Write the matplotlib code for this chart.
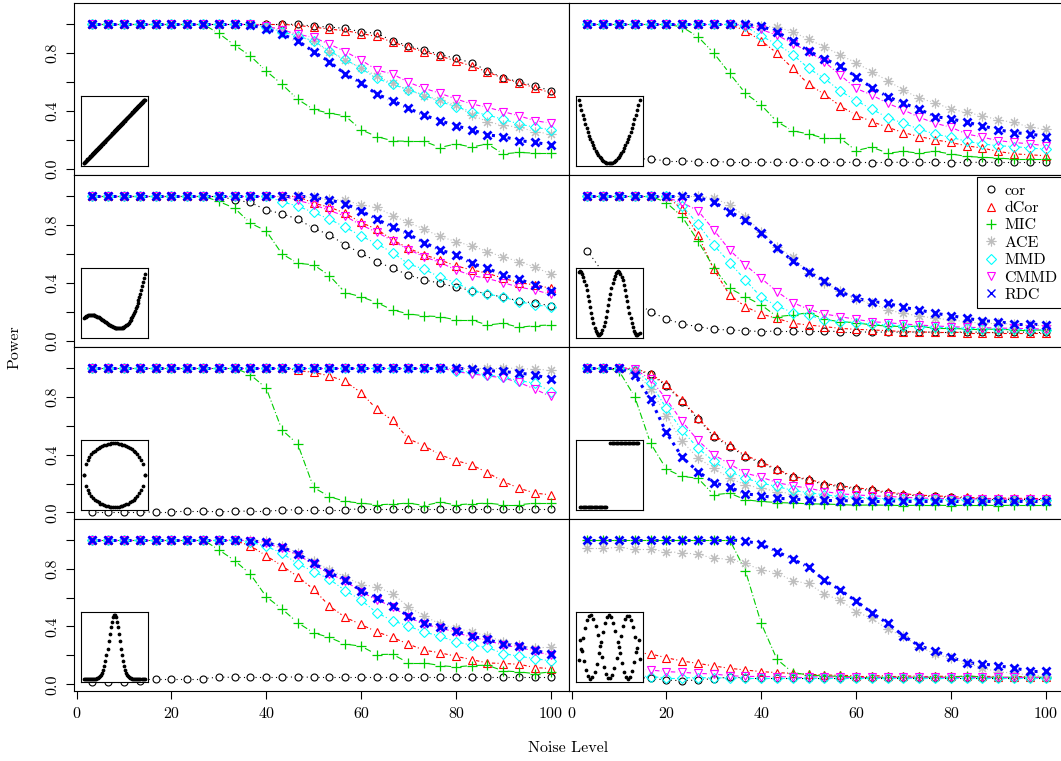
import numpy as np
import matplotlib
matplotlib.use("Agg")
import matplotlib.pyplot as plt
from matplotlib.collections import LineCollection
from matplotlib.lines import Line2D

plt.rcParams['font.family'] = ['cmr10', 'DejaVu Serif']
plt.rcParams['mathtext.fontset'] = 'cm'
plt.rcParams['axes.formatter.use_mathtext'] = True

# ---------------- data ----------------
noise = [100.0 * i / 30 for i in range(1, 31)]
methods = ["cor", "dCor", "MIC", "ACE", "MMD", "CMMD", "RDC"]

linear = {
    "cor":  [1]*13 + [0.998, 0.986, 0.98, 0.97, 0.947, 0.936, 0.885, 0.85, 0.82, 0.79, 0.763, 0.733, 0.678, 0.628, 0.602, 0.572, 0.54],
    "dCor": [1]*13 + [0.99, 0.98, 0.965, 0.955, 0.935, 0.915, 0.875, 0.84, 0.81, 0.78, 0.745, 0.71, 0.67, 0.625, 0.595, 0.56, 0.525],
    "MIC":  [1]*8 + [0.936, 0.855, 0.78, 0.676, 0.584, 0.48, 0.41, 0.384, 0.366, 0.27, 0.223, 0.193, 0.19, 0.19, 0.147, 0.172, 0.15, 0.172, 0.103, 0.113, 0.108, 0.108],
    "ACE":  [1]*11 + [0.99, 0.96, 0.92, 0.88, 0.81, 0.75, 0.70, 0.64, 0.59, 0.545, 0.506, 0.476, 0.44, 0.372, 0.326, 0.30, 0.287, 0.257, 0.24],
    "MMD":  [1]*11 + [0.98, 0.947, 0.917, 0.885, 0.814, 0.756, 0.694, 0.625, 0.584, 0.545, 0.51, 0.464, 0.43, 0.395, 0.372, 0.342, 0.31, 0.287, 0.27],
    "CMMD": [1]*11 + [0.986, 0.96, 0.93, 0.908, 0.862, 0.81, 0.752, 0.683, 0.655, 0.598, 0.556, 0.522, 0.483, 0.448, 0.425, 0.395, 0.366, 0.333, 0.315],
    "RDC":  [1]*10 + [0.993, 0.968, 0.93, 0.885, 0.81, 0.74, 0.655, 0.595, 0.515, 0.472, 0.418, 0.37, 0.333, 0.297, 0.27, 0.234, 0.223, 0.195, 0.182, 0.166],
}
parabolic = {
    "cor":  [0.08, 0.075, 0.07, 0.07, 0.067, 0.055, 0.055, 0.05, 0.05, 0.046, 0.046, 0.046, 0.044, 0.045, 0.044, 0.044, 0.045, 0.044, 0.043, 0.044, 0.045, 0.044, 0.044, 0.043, 0.044, 0.045, 0.044, 0.044, 0.044, 0.044],
    "dCor": [1]*10 + [0.954, 0.885, 0.80, 0.694, 0.584, 0.515, 0.434, 0.372, 0.326, 0.287, 0.25, 0.223, 0.2, 0.182, 0.159, 0.143, 0.12, 0.103, 0.097, 0.09],
    "MIC":  [1]*6 + [0.98, 0.913, 0.80, 0.66, 0.522, 0.441, 0.326, 0.262, 0.241, 0.211, 0.211, 0.126, 0.15, 0.108, 0.12, 0.108, 0.12, 0.103, 0.085, 0.08, 0.074, 0.067, 0.067, 0.067],
    "ACE":  [1]*11 + [0.986, 0.98, 0.947, 0.894, 0.844, 0.786, 0.733, 0.671, 0.609, 0.545, 0.487, 0.457, 0.412, 0.39, 0.366, 0.338, 0.32, 0.287, 0.274],
    "MMD":  [1]*10 + [0.985, 0.917, 0.862, 0.79, 0.694, 0.625, 0.538, 0.472, 0.412, 0.354, 0.315, 0.274, 0.24, 0.218, 0.19, 0.172, 0.159, 0.154, 0.143, 0.136],
    "CMMD": [1]*10 + [0.99, 0.963, 0.924, 0.866, 0.81, 0.74, 0.648, 0.556, 0.51, 0.453, 0.407, 0.356, 0.315, 0.287, 0.241, 0.218, 0.195, 0.182, 0.172, 0.159],
    "RDC":  [1]*10 + [0.998, 0.986, 0.947, 0.883, 0.814, 0.76, 0.71, 0.637, 0.561, 0.499, 0.453, 0.412, 0.361, 0.345, 0.322, 0.297, 0.27, 0.25, 0.241, 0.223],
}
cubic = {
    "cor":  [1]*9 + [0.973, 0.955, 0.904, 0.877, 0.84, 0.777, 0.731, 0.662, 0.604, 0.547, 0.5, 0.454, 0.42, 0.397, 0.37, 0.346, 0.323, 0.3, 0.275, 0.259, 0.242],
    "dCor": [1]*13 + [0.997, 0.95, 0.923, 0.881, 0.817, 0.77, 0.697, 0.639, 0.593, 0.558, 0.517, 0.489, 0.466, 0.431, 0.401, 0.385, 0.362],
    "MIC":  [1]*8 + [0.962, 0.916, 0.812, 0.759, 0.6, 0.535, 0.524, 0.45, 0.332, 0.304, 0.263, 0.212, 0.185, 0.171, 0.166, 0.143, 0.143, 0.108, 0.12, 0.092, 0.104, 0.108],
    "ACE":  [1]*14 + [0.99, 0.978, 0.969, 0.939, 0.923, 0.863, 0.817, 0.77, 0.72, 0.685, 0.655, 0.616, 0.577, 0.547, 0.508, 0.461],
    "MMD":  [1]*12 + [0.96, 0.93, 0.886, 0.84, 0.784, 0.724, 0.669, 0.609, 0.53, 0.494, 0.438, 0.401, 0.346, 0.323, 0.3, 0.27, 0.247, 0.235],
    "CMMD": [1]*13 + [0.97, 0.94, 0.9, 0.86, 0.8, 0.75, 0.69, 0.63, 0.58, 0.54, 0.49, 0.45, 0.43, 0.4, 0.37, 0.35, 0.32],
    "RDC":  [1]*14 + [0.99, 0.973, 0.946, 0.897, 0.84, 0.784, 0.736, 0.678, 0.627, 0.593, 0.535, 0.5, 0.454, 0.424, 0.385, 0.346],
}
sine_low = {
    "cor":  [0.622, 0.47, 0.35, 0.27, 0.2, 0.15, 0.115, 0.097, 0.078, 0.074, 0.069, 0.062, 0.067, 0.067, 0.067, 0.067, 0.062, 0.062, 0.058, 0.06, 0.058, 0.06, 0.058, 0.058, 0.06, 0.058, 0.058, 0.06, 0.058, 0.058],
    "dCor": [1]*6 + [0.908, 0.73, 0.493, 0.316, 0.235, 0.184, 0.154, 0.12, 0.108, 0.097, 0.085, 0.078, 0.074, 0.069, 0.062, 0.06, 0.058, 0.058, 0.056, 0.056, 0.055, 0.055, 0.055, 0.055],
    "MIC":  [1]*5 + [0.954, 0.857, 0.689, 0.505, 0.362, 0.304, 0.247, 0.166, 0.177, 0.194, 0.147, 0.131, 0.124, 0.108, 0.101, 0.097, 0.1, 0.085, 0.085, 0.08, 0.08, 0.078, 0.075, 0.075, 0.072],
    "ACE":  [1]*8 + [0.985, 0.938, 0.857, 0.753, 0.65, 0.576, 0.465, 0.396, 0.346, 0.286, 0.258, 0.212, 0.189, 0.17, 0.155, 0.143, 0.131, 0.12, 0.12, 0.115, 0.108, 0.108],
    "MMD":  [1]*6 + [0.931, 0.806, 0.661, 0.539, 0.419, 0.3, 0.24, 0.194, 0.177, 0.143, 0.131, 0.124, 0.115, 0.108, 0.101, 0.097, 0.092, 0.09, 0.085, 0.082, 0.08, 0.078, 0.076, 0.075],
    "CMMD": [1]*5 + [0.99, 0.954, 0.899, 0.765, 0.627, 0.523, 0.431, 0.339, 0.263, 0.217, 0.184, 0.166, 0.147, 0.131, 0.124, 0.115, 0.108, 0.101, 0.097, 0.092, 0.09, 0.087, 0.085, 0.083, 0.08],
    "RDC":  [1]*7 + [0.99, 0.96, 0.892, 0.834, 0.747, 0.638, 0.553, 0.477, 0.412, 0.339, 0.293, 0.27, 0.258, 0.23, 0.212, 0.189, 0.173, 0.154, 0.138, 0.131, 0.115, 0.115, 0.108],
}
circle = {
    "cor":  [0.0, 0.0, 0.0, 0.0, 0.005, 0.005, 0.008, 0.008, 0.005, 0.008, 0.01, 0.01, 0.015, 0.02, 0.02, 0.02, 0.02, 0.025, 0.025, 0.025, 0.025, 0.025, 0.025, 0.025, 0.025, 0.025, 0.025, 0.025, 0.025, 0.025],
    "dCor": [1]*13 + [0.982, 0.968, 0.945, 0.906, 0.829, 0.714, 0.636, 0.509, 0.461, 0.399, 0.359, 0.329, 0.276, 0.214, 0.168, 0.134, 0.122],
    "MIC":  [1]*10 + [0.952, 0.86, 0.571, 0.472, 0.173, 0.11, 0.076, 0.065, 0.053, 0.058, 0.065, 0.048, 0.071, 0.053, 0.06, 0.065, 0.053, 0.053, 0.065, 0.065],
    "ACE":  [1]*27 + [0.995, 0.99, 0.985],
    "MMD":  [1]*23 + [0.98, 0.97, 0.952, 0.935, 0.912, 0.894, 0.836],
    "CMMD": [1]*23 + [0.975, 0.958, 0.945, 0.93, 0.899, 0.853, 0.802],
    "RDC":  [1]*23 + [0.997, 0.99, 0.98, 0.975, 0.963, 0.952, 0.922],
}
step = {
    "cor":  [1]*3 + [0.985, 0.957, 0.874, 0.766, 0.647, 0.525, 0.456, 0.387, 0.341, 0.295, 0.244, 0.226, 0.191, 0.18, 0.161, 0.152, 0.134, 0.122, 0.115, 0.111, 0.104, 0.099, 0.092, 0.092, 0.092, 0.092, 0.092],
    "dCor": [1]*3 + [0.995, 0.96, 0.885, 0.775, 0.655, 0.535, 0.465, 0.395, 0.35, 0.3, 0.25, 0.23, 0.2, 0.185, 0.17, 0.16, 0.14, 0.13, 0.12, 0.115, 0.11, 0.105, 0.1, 0.1, 0.098, 0.097, 0.097],
    "MIC":  [1, 1, 0.98, 0.8, 0.479, 0.3, 0.249, 0.237, 0.122, 0.134, 0.088, 0.076, 0.069, 0.065, 0.06, 0.058, 0.055, 0.05, 0.052, 0.05, 0.048, 0.05, 0.05, 0.048, 0.05, 0.05, 0.048, 0.05, 0.05, 0.05],
    "ACE":  [1]*3 + [0.973, 0.857, 0.668, 0.491, 0.376, 0.306, 0.237, 0.191, 0.168, 0.145, 0.129, 0.115, 0.108, 0.1, 0.097, 0.095, 0.093, 0.092, 0.09, 0.09, 0.088, 0.088, 0.087, 0.087, 0.086, 0.086, 0.085],
    "MMD":  [1]*3 + [0.985, 0.894, 0.721, 0.567, 0.445, 0.353, 0.283, 0.237, 0.203, 0.18, 0.152, 0.138, 0.122, 0.111, 0.106, 0.099, 0.095, 0.092, 0.09, 0.09, 0.088, 0.087, 0.086, 0.085, 0.085, 0.085, 0.085],
    "CMMD": [1]*3 + [0.99, 0.922, 0.783, 0.629, 0.498, 0.399, 0.336, 0.272, 0.244, 0.207, 0.184, 0.168, 0.145, 0.129, 0.122, 0.115, 0.111, 0.106, 0.1, 0.098, 0.096, 0.095, 0.094, 0.093, 0.092, 0.091, 0.09],
    "RDC":  [1]*3 + [0.951, 0.783, 0.553, 0.382, 0.283, 0.207, 0.175, 0.129, 0.117, 0.099, 0.092, 0.088, 0.083, 0.082, 0.08, 0.08, 0.08, 0.078, 0.078, 0.078, 0.077, 0.077, 0.076, 0.076, 0.076, 0.076, 0.076],
}
gaussian = {
    "cor":  [0.016, 0.016, 0.016, 0.025, 0.039, 0.039, 0.039, 0.039, 0.05, 0.048, 0.048, 0.048, 0.048, 0.052, 0.048, 0.048, 0.048, 0.048, 0.048, 0.048, 0.048, 0.048, 0.048, 0.048, 0.048, 0.048, 0.048, 0.048, 0.048, 0.048],
    "dCor": [1]*9 + [0.995, 0.958, 0.889, 0.819, 0.745, 0.657, 0.542, 0.463, 0.414, 0.363, 0.324, 0.278, 0.236, 0.218, 0.194, 0.171, 0.148, 0.144, 0.139, 0.116, 0.109],
    "MIC":  [1]*8 + [0.93, 0.856, 0.762, 0.606, 0.521, 0.426, 0.356, 0.324, 0.278, 0.264, 0.206, 0.208, 0.148, 0.148, 0.13, 0.12, 0.13, 0.132, 0.093, 0.086, 0.074, 0.086],
    "ACE":  [1]*11 + [0.99, 0.955, 0.91, 0.85, 0.79, 0.745, 0.688, 0.676, 0.625, 0.537, 0.472, 0.417, 0.387, 0.363, 0.333, 0.294, 0.271, 0.248, 0.26],
    "MMD":  [1]*10 + [0.984, 0.954, 0.907, 0.833, 0.78, 0.727, 0.648, 0.583, 0.495, 0.44, 0.403, 0.361, 0.333, 0.294, 0.271, 0.255, 0.213, 0.194, 0.178, 0.162],
    "CMMD": [1]*10 + [0.99, 0.975, 0.94, 0.895, 0.83, 0.765, 0.715, 0.64, 0.585, 0.535, 0.465, 0.415, 0.39, 0.36, 0.325, 0.305, 0.27, 0.255, 0.23, 0.2],
    "RDC":  [1]*10 + [0.993, 0.981, 0.949, 0.903, 0.838, 0.773, 0.722, 0.648, 0.595, 0.542, 0.472, 0.421, 0.398, 0.37, 0.333, 0.31, 0.278, 0.264, 0.236, 0.208],
}
sine_mix = {
    "cor":  [0.05, 0.05, 0.05, 0.05, 0.041, 0.03, 0.025, 0.03, 0.04, 0.05, 0.045, 0.045, 0.045, 0.045, 0.045, 0.045, 0.045, 0.045, 0.045, 0.045, 0.045, 0.045, 0.045, 0.045, 0.045, 0.045, 0.045, 0.045, 0.045, 0.045],
    "dCor": [0.25, 0.24, 0.23, 0.22, 0.21, 0.184, 0.161, 0.145, 0.127, 0.111, 0.099, 0.088, 0.081, 0.076, 0.069, 0.065, 0.062, 0.06, 0.06, 0.058, 0.058, 0.056, 0.056, 0.055, 0.055, 0.055, 0.054, 0.054, 0.053, 0.053],
    "MIC":  [1]*10 + [0.786, 0.422, 0.173, 0.081, 0.065, 0.058, 0.055, 0.05, 0.05, 0.048, 0.05, 0.048, 0.05, 0.048, 0.06, 0.05, 0.048, 0.05, 0.048, 0.05],
    "ACE":  [0.94, 0.94, 0.947, 0.933, 0.933, 0.917, 0.91, 0.899, 0.871, 0.866, 0.836, 0.79, 0.772, 0.714, 0.698, 0.622, 0.583, 0.502, 0.456, 0.38, 0.334, 0.26, 0.21, 0.18, 0.15, 0.111, 0.088, 0.076, 0.065, 0.058],
    "MMD":  [0.06, 0.06, 0.06, 0.06, 0.053, 0.045, 0.045, 0.046, 0.045, 0.044, 0.045, 0.045, 0.045, 0.045, 0.045, 0.045, 0.045, 0.045, 0.045, 0.045, 0.045, 0.045, 0.045, 0.045, 0.045, 0.045, 0.045, 0.045, 0.045, 0.045],
    "CMMD": [0.11, 0.11, 0.11, 0.11, 0.099, 0.088, 0.083, 0.076, 0.071, 0.06, 0.055, 0.054, 0.053, 0.052, 0.052, 0.051, 0.05, 0.05, 0.05, 0.05, 0.05, 0.05, 0.049, 0.049, 0.049, 0.049, 0.048, 0.048, 0.048, 0.048],
    "RDC":  [1]*10 + [0.99, 0.97, 0.917, 0.866, 0.809, 0.721, 0.652, 0.576, 0.495, 0.422, 0.336, 0.265, 0.233, 0.187, 0.15, 0.141, 0.129, 0.111, 0.094, 0.094],
}

panels = [linear, parabolic, cubic, sine_low, circle, step, gaussian, sine_mix]
shapes = ["linear", "parabolic", "cubic", "sine_low", "circle", "step", "gaussian", "sine_mix"]
x_ticks = [0, 20, 40, 60, 80, 100]
y_ticks = [0.0, 0.2, 0.4, 0.6, 0.8, 1.0]
y_tick_labels = ["0.0", "", "0.4", "", "0.8", ""]

# ---------------- styles ----------------
GREEN = "#00CD00"
style = {
    "cor":  dict(color="black", marker="o", ms=5.0, mew=0.8, ls=(0, (1, 3)), lw=0.8),
    "dCor": dict(color="red", marker="^", ms=6.0, mew=0.8, ls=(0, (3, 2, 1, 2)), lw=0.8),
    "MIC":  dict(color=GREEN, marker="+", ms=7.5, mew=0.9, ls=(0, (6, 2, 1, 2)), lw=0.8),
    "ACE":  dict(color="#BEBEBE", marker=(8, 2, 0), ms=7.0, mew=0.8, ls=(0, (1, 2)), lw=0.8),
    "MMD":  dict(color="cyan", marker="D", ms=5.0, mew=0.8, ls=(0, (3, 2, 1, 2)), lw=0.8),
    "CMMD": dict(color="magenta", marker="v", ms=6.0, mew=0.8, ls=(0, (4, 2, 1, 2)), lw=0.8),
    "RDC":  dict(color="blue", marker="x", ms=6.0, mew=2.0, ls=(0, (1, 1.5)), lw=2.2),
}

W, H = 1061, 761
fig = plt.figure(figsize=(W / 100, H / 100), dpi=100)

LEFT, COLW, TOP, ROWH = 74.0, 495.0, 3.3, 171.85
XLIM = (-0.53, 103.87)
YLIM = (-0.044, 1.144)
GAP = 4.5  # px gap between line ends and markers (type="b")


def gapped(ax, x, y, gap):
    pts = ax.transData.transform(np.column_stack([x, y]))
    inv = ax.transData.inverted()
    segs = []
    for p, q in zip(pts[:-1], pts[1:]):
        d = q - p
        L = np.hypot(d[0], d[1])
        if L <= 2 * gap + 0.5:
            continue
        u = d / L
        segs.append(inv.transform(np.array([p + u * gap, q - u * gap])))
    return segs


def draw_shape(ins, name):
    k = dict(ls="none", marker="o", ms=1.7, color="black", mec="black")
    if name == "linear":
        t = np.linspace(0, 1, 150)
        ins.plot(t, t, **k)
    elif name == "parabolic":
        t = np.linspace(0, 1, 48)
        ins.plot(t, (t - 0.5) ** 2, **k)
    elif name == "cubic":
        t = np.linspace(0, 1, 70)
        g = t ** 3 - 1.05 * t ** 2 + 0.2088 * t
        ins.plot(t, g, **k)
        lo, hi = g.min(), g.max()
        R = hi - lo
        ins.set_ylim(lo - 0.18 * R, hi + 0.103 * R)
    elif name == "sine_low":
        t = np.linspace(0, 1, 55)
        ins.plot(t, np.cos(2 * np.pi * (t - 0.015) / 0.63), **k)
    elif name == "circle":
        t = np.linspace(-1, 1, 34)
        ins.plot(t, np.sqrt(1 - t ** 2), **k)
        ins.plot(t, -np.sqrt(1 - t ** 2), **k)
    elif name == "step":
        t1 = np.linspace(0.02, 0.45, 22)
        t2 = np.linspace(0.52, 0.98, 22)
        ins.plot(t1, np.zeros_like(t1), **k)
        ins.plot(t2, np.ones_like(t2), **k)
        ins.set_xlim(-0.05, 1.05)
    elif name == "gaussian":
        t = np.linspace(0, 1, 60)
        ins.plot(t, np.exp(-(t - 0.5) ** 2 / (2 * 0.09 ** 2)), **k)
    elif name == "sine_mix":
        t1 = np.linspace(0, 1, 30)
        t2 = np.linspace(0.017, 0.983, 29)
        a = lambda t: np.sin(2 * np.pi * (t - 0.04) / 0.615)
        ins.plot(t1, a(t1), **k)
        ins.plot(t2, -a(t2), **k)


for idx, (data, shape) in enumerate(zip(panels, shapes)):
    r, c = divmod(idx, 2)
    ax = fig.add_axes([(LEFT + c * COLW) / W, (H - (TOP + (r + 1) * ROWH)) / H, COLW / W, ROWH / H])
    ax.set_xlim(*XLIM)
    ax.set_ylim(*YLIM)
    for sp in ax.spines.values():
        sp.set_linewidth(0.8)
    for m in methods:
        s = style[m]
        y = data[m]
        segs = gapped(ax, noise, y, GAP)
        lc = LineCollection(segs, colors=s["color"], linewidths=s["lw"], linestyles=[s["ls"]], zorder=2)
        ax.add_collection(lc)
    for m in methods:
        s = style[m]
        ax.plot(noise, data[m], ls="none", marker=s["marker"], ms=s["ms"], mew=s["mew"],
                mec=s["color"], mfc="none", color=s["color"], zorder=3, label=m)
    # ticks
    if c == 0:
        ax.set_yticks(y_ticks)
        ax.set_yticklabels(y_tick_labels)
        for lab in ax.get_yticklabels():
            lab.set_rotation(90)
            lab.set_va("center")
    else:
        ax.set_yticks([])
    if r == 3:
        ax.set_xticks(x_ticks)
        ax.set_xticklabels([str(v) for v in x_ticks])
    else:
        ax.set_xticks([])
    ax.tick_params(direction="out", length=5.8, width=0.8, labelsize=11.5)
    ax.tick_params(axis="x", pad=6)
    ax.tick_params(axis="y", pad=5)

    ins = ax.inset_axes([0.9, 0.016, 14.1, 0.484], transform=ax.transData, zorder=5)
    ins.set_facecolor("white")
    ins.set_xticks([])
    ins.set_yticks([])
    for sp in ins.spines.values():
        sp.set_linewidth(0.8)
    ins.margins(0.05)
    draw_shape(ins, shape)

    if idx == 3:
        handles = [Line2D([], [], ls="none", marker=style[m]["marker"], ms=style[m]["ms"],
                          mew=style[m]["mew"] if m != "RDC" else 1.0, mec=style[m]["color"],
                          mfc="none") for m in methods]
        leg = ax.legend(handles, methods, loc="upper left",
                        bbox_to_anchor=((977 - (LEFT + COLW)) / COLW, 1 - 2.0 / ROWH),
                        borderaxespad=0, fontsize=11.5, frameon=True, fancybox=False,
                        edgecolor="black", framealpha=1, borderpad=0.4, handlelength=1.0,
                        handletextpad=0.3, labelspacing=0.2)
        leg.get_frame().set_linewidth(0.8)
        leg.set_zorder(6)

fig.text(15 / W, 1 - 347 / H, "Power", rotation=90, ha="center", va="center", fontsize=11.5)
fig.text(568 / W, 1 - 748 / H, "Noise Level", ha="center", va="center", fontsize=11.5)

fig.savefig("out.png", dpi=100)
